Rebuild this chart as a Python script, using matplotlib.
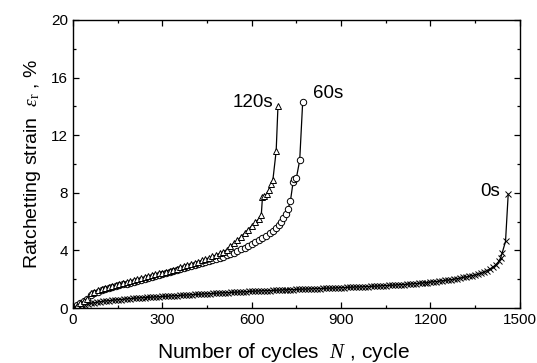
import matplotlib
matplotlib.use('Agg')
import matplotlib.pyplot as plt
from matplotlib.ticker import MultipleLocator

plt.rcParams['font.family'] = ['Liberation Sans', 'DejaVu Sans']
plt.rcParams['mathtext.fontset'] = 'custom'
plt.rcParams['mathtext.it'] = 'Liberation Serif:italic'
plt.rcParams['mathtext.rm'] = 'Liberation Serif'

# ── 0 s hold time ───────────────────────────────────────────────
n_0s = [0, 10, 20, 30, 40, 50, 60, 70, 80, 90,
        100, 110, 120, 130, 140, 150, 160, 170, 180, 190,
        200, 210, 220, 230, 240, 250, 260, 270, 280, 290,
        300, 310, 320, 330, 340, 350, 360, 370, 380, 390,
        400, 410, 420, 430, 440, 450, 460, 470, 480, 490,
        500, 510, 520, 530, 540, 550, 560, 570, 580, 590,
        600, 610, 620, 630, 640, 650, 660, 670, 680, 690,
        700, 710, 720, 730, 740, 750, 760, 770, 780, 790,
        800, 810, 820, 830, 840, 850, 860, 870, 880, 890,
        900, 910, 920, 930, 940, 950, 960, 970, 980, 990,
        1000, 1010, 1020, 1030, 1040, 1050, 1060, 1070, 1080, 1090,
        1100, 1110, 1120, 1130, 1140, 1150, 1160, 1170, 1180, 1190,
        1200, 1210, 1220, 1230, 1240, 1250, 1260, 1270, 1280, 1290,
        1300, 1310, 1320, 1330, 1340, 1350, 1360, 1370, 1380, 1390,
        1400, 1410, 1420, 1430, 1436, 1441, 1452, 1461]
eps_0s = [0.00, 0.08, 0.14, 0.19, 0.24, 0.28, 0.32, 0.36, 0.40, 0.43,
          0.47, 0.49, 0.51, 0.53, 0.55, 0.57, 0.59, 0.61, 0.63, 0.65,
          0.67, 0.68, 0.70, 0.71, 0.72, 0.73, 0.75, 0.76, 0.77, 0.78,
          0.80, 0.81, 0.82, 0.84, 0.85, 0.86, 0.87, 0.89, 0.90, 0.91,
          0.93, 0.94, 0.95, 0.96, 0.98, 0.99, 1.00, 1.01, 1.02, 1.04,
          1.05, 1.06, 1.07, 1.08, 1.09, 1.10, 1.11, 1.12, 1.13, 1.15,
          1.16, 1.17, 1.18, 1.19, 1.20, 1.20, 1.21, 1.22, 1.23, 1.24,
          1.25, 1.26, 1.27, 1.28, 1.28, 1.29, 1.30, 1.31, 1.31, 1.32,
          1.33, 1.34, 1.35, 1.35, 1.36, 1.37, 1.38, 1.38, 1.39, 1.40,
          1.41, 1.42, 1.43, 1.44, 1.45, 1.46, 1.46, 1.47, 1.48, 1.49,
          1.50, 1.51, 1.52, 1.53, 1.55, 1.56, 1.57, 1.58, 1.59, 1.61,
          1.62, 1.63, 1.65, 1.66, 1.68, 1.70, 1.71, 1.73, 1.75, 1.77,
          1.80, 1.82, 1.84, 1.87, 1.89, 1.92, 1.94, 1.97, 2.00, 2.04,
          2.08, 2.12, 2.16, 2.20, 2.25, 2.30, 2.36, 2.42, 2.50, 2.60,
          2.72, 2.85, 3.02, 3.25, 3.50, 3.84, 4.62, 7.90]

# ── 60 s hold time ──────────────────────────────────────────────
n_60s = [0, 12, 24, 36, 48, 60, 72, 84, 96, 108,
         120, 132, 144, 156, 168, 180, 192, 204, 216, 228,
         240, 252, 264, 276, 288, 300, 312, 324, 336, 348,
         360, 372, 384, 396, 408, 420, 432, 444, 456, 468,
         480, 492, 504, 516, 528, 540, 552, 564, 576, 588,
         600, 612, 624, 636, 648, 660, 670, 680, 690, 698,
         706, 714, 722, 730, 739, 743, 750, 761, 771]
eps_60s = [0.00, 0.18, 0.35, 0.50, 0.66, 0.92, 1.05, 1.14, 1.24, 1.31,
           1.37, 1.44, 1.50, 1.57, 1.64, 1.70, 1.77, 1.83, 1.90, 1.96,
           2.03, 2.09, 2.16, 2.22, 2.29, 2.35, 2.42, 2.48, 2.55, 2.62,
           2.69, 2.76, 2.83, 2.90, 2.96, 3.03, 3.10, 3.17, 3.24, 3.31,
           3.39, 3.47, 3.56, 3.65, 3.75, 3.85, 3.96, 4.07, 4.19, 4.31,
           4.44, 4.57, 4.71, 4.86, 5.02, 5.20, 5.38, 5.56, 5.78, 6.00,
           6.22, 6.55, 6.90, 7.45, 8.77, 8.95, 9.05, 10.25, 14.30]

# ── 120 s hold time ─────────────────────────────────────────────
n_120s = [0, 12, 24, 36, 48, 60, 72, 84, 96, 108,
          120, 132, 144, 156, 168, 180, 192, 204, 216, 228,
          240, 252, 264, 276, 288, 300, 312, 324, 336, 348,
          360, 372, 384, 396, 408, 420, 432, 444, 456, 468,
          480, 492, 504, 516, 528, 540, 552, 564, 576, 588,
          600, 612, 624, 632, 636, 641, 650, 657, 664, 671,
          682, 688]
eps_120s = [0.00, 0.16, 0.32, 0.48, 0.66, 1.02, 1.14, 1.23, 1.31, 1.38,
            1.45, 1.52, 1.59, 1.66, 1.72, 1.79, 1.86, 1.92, 1.99, 2.06,
            2.12, 2.19, 2.26, 2.33, 2.40, 2.46, 2.53, 2.60, 2.67, 2.74,
            2.82, 2.89, 2.97, 3.05, 3.13, 3.21, 3.30, 3.39, 3.48, 3.58,
            3.68, 3.79, 3.91, 4.04, 4.30, 4.50, 4.70, 4.95, 5.20, 5.45,
            5.70, 5.95, 6.20, 6.45, 7.70, 7.78, 7.90, 8.20, 8.60, 8.90,
            10.90, 14.00]

fig = plt.figure(figsize=(5.37, 3.63), dpi=100)
ax = fig.add_axes([0.136, 0.1515, 0.832, 0.7935])

mk = dict(color='black', linewidth=0.9, markerfacecolor='white',
          markeredgecolor='black', markeredgewidth=0.7)
ax.plot(n_0s, eps_0s, marker='x', markersize=5.0, **mk)
ax.plot(n_60s, eps_60s, marker='o', markersize=4.6, **mk)
ax.plot(n_120s, eps_120s, marker='^', markersize=5.0, **mk)

# curve labels
ax.text(605, 14.3, '120s', fontsize=13.5, ha='center', va='center')
ax.text(855, 14.9, '60s', fontsize=13.5, ha='center', va='center')
ax.text(1400, 8.1, '0s', fontsize=13.5, ha='center', va='center')

ax.set_xlim(0, 1500)
ax.set_ylim(0, 20)
ax.xaxis.set_major_locator(MultipleLocator(300))
ax.xaxis.set_minor_locator(MultipleLocator(150))
ax.yaxis.set_major_locator(MultipleLocator(4))
ax.yaxis.set_minor_locator(MultipleLocator(2))
ax.tick_params(which='both', direction='in', top=True, right=True,
               labeltop=False, labelright=False, labelsize=11, width=0.9)
ax.tick_params(which='major', length=4)
ax.tick_params(which='minor', length=2.5)
for s in ax.spines.values():
    s.set_linewidth(1.0)

ax.set_xlabel(r'Number of cycles  $N$ , cycle', fontsize=15)
ax.xaxis.set_label_coords(0.47, -0.115)
ax.set_ylabel(r'Ratchetting strain  $\varepsilon_{\rm r}$ , %', fontsize=14, labelpad=6)

fig.savefig('out.png', dpi=100)
